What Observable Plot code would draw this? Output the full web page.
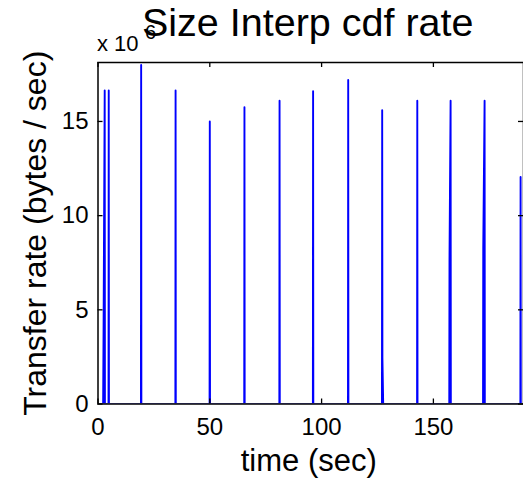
<!DOCTYPE html>
<html><head><meta charset="utf-8">
<script src="https://cdn.jsdelivr.net/npm/d3@7"></script>
<script src="https://cdn.jsdelivr.net/npm/@observablehq/plot@0.6"></script>
<style>body{margin:0;background:#fff}#chart{width:523px;height:484px}</style>
</head><body><div id="chart"></div>
<script>
// time (sec) and transfer rate (bytes/sec)
const timeSec = [1.0,
  2.3, 2.5, 3.0, 3.1,
  4.7, 4.8, 4.9,
  19.2, 19.3, 19.4,
  34.6, 34.7, 34.8,
  49.9, 50.0, 50.1,
  65.4, 65.5, 65.6,
  81.1, 81.2, 81.3,
  96.1, 96.2, 96.3,
  111.8, 111.9, 112.0,
  127.0, 127.1, 127.2, 127.55,
  142.7, 142.8, 142.9,
  157.1, 157.2, 157.7, 157.8,
  172.2, 172.3, 172.9, 173.0,
  188.9, 189.0, 189.1,
  190.5];
const rateBps = [0,
  0, 4.2e6, 16.65e6, 0,
  0, 16.65e6, 0,
  0, 18.0e6, 0,
  0, 16.65e6, 0,
  0, 15.0e6, 0,
  0, 15.76e6, 0,
  0, 16.1e6, 0,
  0, 16.6e6, 0,
  0, 17.2e6, 0,
  0, 15.6e6, 2.45e6, 0,
  0, 16.1e6, 0,
  0, 7.6e6, 16.1e6, 0,
  0, 8.3e6, 16.1e6, 0,
  0, 12.05e6, 0,
  0];
const xTicks = [0, 50, 100, 150];
const yTicks = [0, 5e6, 10e6, 15e6];
const titleText = "Size Interp cdf rate";
const xLabel = "time (sec)";
const yLabel = "Transfer rate (bytes / sec)";
const expBase = "x 10";
const expPow = "6";

const data = timeSec.map((t, i) => ({t, r: rateBps[i]}));
const W = 523, H = 484, mL = 97.5, mR = 0, mT = 62, mB = 80.5;
const innerH = H - mT - mB, innerW = W - mL - mR, tick = 5;
const font = "'Liberation Sans', Arial, Helvetica, sans-serif";

const plot = Plot.plot({
  width: W, height: H,
  marginLeft: mL, marginRight: mR, marginTop: mT, marginBottom: mB,
  style: {fontFamily: font, background: "white", color: "black", overflow: "visible"},
  x: {domain: [0, 190.3]},
  y: {domain: [0, 18.13e6]},
  marks: [
    Plot.line(data, {x: "t", y: "r", stroke: "#0000ff", strokeWidth: 1.9, clip: true}),
    Plot.frame({stroke: "black", strokeWidth: 1.5}),
    Plot.tickX(xTicks, {x: d => d, insetTop: innerH - tick, stroke: "black", strokeWidth: 1.3}),
    Plot.tickX(xTicks, {x: d => d, insetBottom: innerH - tick, stroke: "black", strokeWidth: 1.3}),
    Plot.tickY(yTicks, {y: d => d, insetRight: innerW - tick, stroke: "black", strokeWidth: 1.3}),
    Plot.tickY(yTicks, {y: d => d, insetLeft: innerW - tick, stroke: "black", strokeWidth: 1.3}),
    Plot.axisX(xTicks, {tickSize: 0, tickPadding: 14, fontSize: 24, label: null, tickFormat: d => d}),
    Plot.axisY(yTicks, {tickSize: 0, tickPadding: 9.5, fontSize: 24, label: null, tickFormat: d => d / 1e6}),
    Plot.text([expBase], {frameAnchor: "top-left", textAnchor: "start", lineAnchor: "bottom", dx: -1, dy: -12, fontSize: 22}),
    Plot.text([expPow], {frameAnchor: "top-left", textAnchor: "start", lineAnchor: "bottom", dx: 47, dy: -24, fontSize: 20}),
    Plot.text([titleText], {frameAnchor: "top", textAnchor: "middle", lineAnchor: "bottom", dx: -3, dy: -27, fontSize: 39.5}),
    Plot.text([xLabel], {frameAnchor: "bottom", textAnchor: "middle", lineAnchor: "bottom", dx: -2, dy: 66.5, fontSize: 31}),
    Plot.text([yLabel], {frameAnchor: "left", textAnchor: "middle", lineAnchor: "bottom", rotate: -90, dx: -52.5, fontSize: 32})
  ]
});
document.getElementById("chart").appendChild(plot);
</script>
</body></html>
